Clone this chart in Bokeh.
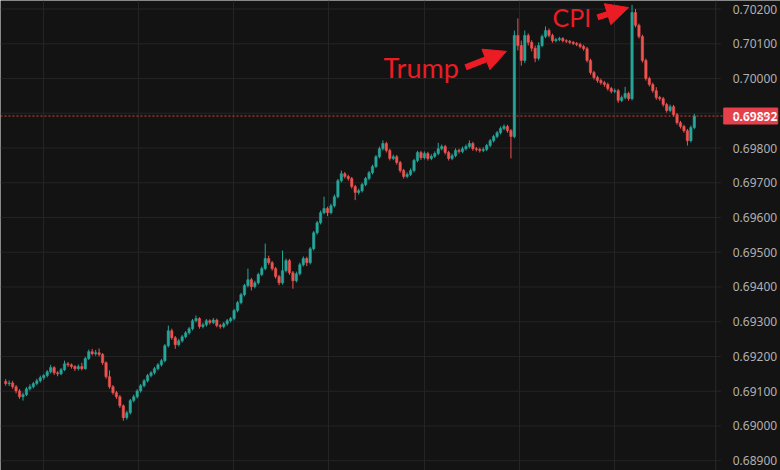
from bokeh.plotting import figure
from bokeh.models import (ColumnDataSource, Range1d, FixedTicker, Span, Label, Arrow, NormalHead)
from bokeh.embed import file_html
from bokeh.resources import INLINE
from bokeh.core.properties import value

# ---------------- data (intraday candles) ----------------
opens = [
    0.69128, 0.69122, 0.69124, 0.69113, 0.69101, 0.69084, 0.69090, 0.69107, 0.69113, 0.69122,
    0.69130, 0.69139, 0.69145, 0.69156, 0.69168, 0.69153, 0.69150, 0.69162, 0.69179, 0.69176,
    0.69171, 0.69165, 0.69171, 0.69165, 0.69194, 0.69214, 0.69208, 0.69211, 0.69206, 0.69182,
    0.69142, 0.69113, 0.69096, 0.69084, 0.69058, 0.69024, 0.69038, 0.69073, 0.69084, 0.69101,
    0.69116, 0.69130, 0.69145, 0.69153, 0.69165, 0.69176, 0.69188, 0.69231, 0.69274, 0.69254,
    0.69234, 0.69245, 0.69257, 0.69268, 0.69280, 0.69303, 0.69309, 0.69286, 0.69291, 0.69303,
    0.69298, 0.69305, 0.69289, 0.69286, 0.69294, 0.69303, 0.69309, 0.69332, 0.69355, 0.69378,
    0.69404, 0.69421, 0.69401, 0.69412, 0.69436, 0.69453, 0.69482, 0.69470, 0.69453, 0.69430,
    0.69412, 0.69447, 0.69476, 0.69441, 0.69418, 0.69438, 0.69464, 0.69482, 0.69470, 0.69510,
    0.69556, 0.69585, 0.69614, 0.69626, 0.69614, 0.69634, 0.69660, 0.69706, 0.69726, 0.69718,
    0.69712, 0.69689, 0.69672, 0.69677, 0.69695, 0.69712, 0.69729, 0.69747, 0.69775, 0.69798,
    0.69813, 0.69793, 0.69770, 0.69775, 0.69758, 0.69735, 0.69718, 0.69724, 0.69735, 0.69764,
    0.69787, 0.69772, 0.69784, 0.69770, 0.69776, 0.69784, 0.69798, 0.69804, 0.69787, 0.69770,
    0.69778, 0.69793, 0.69790, 0.69798, 0.69804, 0.69813, 0.69798, 0.69796, 0.69793, 0.69796,
    0.69807, 0.69821, 0.69833, 0.69844, 0.69856, 0.69862, 0.69850, 0.69833, 0.70124, 0.70095,
    0.70052, 0.70124, 0.70104, 0.70087, 0.70058, 0.70095, 0.70121, 0.70138, 0.70124, 0.70109,
    0.70112, 0.70115, 0.70109, 0.70107, 0.70104, 0.70101, 0.70098, 0.70092, 0.70086, 0.70052,
    0.70017, 0.70003, 0.69994, 0.69988, 0.69983, 0.69971, 0.69963, 0.69965, 0.69937, 0.69945,
    0.69957, 0.69942, 0.70190, 0.70153, 0.70121, 0.70052, 0.70000, 0.69983, 0.69965, 0.69945,
    0.69942, 0.69925, 0.69908, 0.69919, 0.69896, 0.69873, 0.69862, 0.69850, 0.69821, 0.69859,
]
closes = [
    0.69122, 0.69124, 0.69113, 0.69101, 0.69084, 0.69090, 0.69107, 0.69113, 0.69122, 0.69130,
    0.69139, 0.69145, 0.69156, 0.69168, 0.69153, 0.69150, 0.69162, 0.69179, 0.69176, 0.69171,
    0.69165, 0.69171, 0.69165, 0.69194, 0.69214, 0.69208, 0.69211, 0.69206, 0.69182, 0.69142,
    0.69113, 0.69096, 0.69084, 0.69058, 0.69024, 0.69038, 0.69073, 0.69084, 0.69101, 0.69116,
    0.69130, 0.69145, 0.69153, 0.69165, 0.69176, 0.69188, 0.69231, 0.69274, 0.69254, 0.69234,
    0.69245, 0.69257, 0.69268, 0.69280, 0.69303, 0.69309, 0.69286, 0.69291, 0.69303, 0.69298,
    0.69305, 0.69289, 0.69286, 0.69294, 0.69303, 0.69309, 0.69332, 0.69355, 0.69378, 0.69404,
    0.69421, 0.69401, 0.69412, 0.69436, 0.69453, 0.69482, 0.69470, 0.69453, 0.69430, 0.69412,
    0.69447, 0.69476, 0.69441, 0.69418, 0.69438, 0.69464, 0.69482, 0.69470, 0.69510, 0.69556,
    0.69585, 0.69614, 0.69626, 0.69614, 0.69634, 0.69660, 0.69706, 0.69726, 0.69718, 0.69712,
    0.69689, 0.69672, 0.69677, 0.69695, 0.69712, 0.69729, 0.69747, 0.69775, 0.69798, 0.69813,
    0.69793, 0.69770, 0.69775, 0.69758, 0.69735, 0.69718, 0.69724, 0.69735, 0.69764, 0.69787,
    0.69772, 0.69784, 0.69770, 0.69776, 0.69784, 0.69798, 0.69804, 0.69787, 0.69770, 0.69778,
    0.69793, 0.69790, 0.69798, 0.69804, 0.69813, 0.69798, 0.69796, 0.69793, 0.69796, 0.69807,
    0.69821, 0.69833, 0.69844, 0.69856, 0.69862, 0.69850, 0.69833, 0.70124, 0.70095, 0.70052,
    0.70124, 0.70104, 0.70087, 0.70058, 0.70095, 0.70121, 0.70138, 0.70124, 0.70109, 0.70112,
    0.70115, 0.70109, 0.70107, 0.70104, 0.70101, 0.70098, 0.70092, 0.70086, 0.70052, 0.70017,
    0.70003, 0.69994, 0.69988, 0.69983, 0.69971, 0.69963, 0.69965, 0.69937, 0.69945, 0.69957,
    0.69942, 0.70190, 0.70153, 0.70121, 0.70052, 0.70000, 0.69983, 0.69965, 0.69945, 0.69942,
    0.69925, 0.69908, 0.69919, 0.69896, 0.69873, 0.69862, 0.69850, 0.69821, 0.69859, 0.69892,
]
highs = [
    0.69135, 0.69131, 0.69130, 0.69118, 0.69106, 0.69096, 0.69112, 0.69120, 0.69127, 0.69136,
    0.69145, 0.69150, 0.69161, 0.69176, 0.69172, 0.69158, 0.69167, 0.69188, 0.69184, 0.69180,
    0.69175, 0.69177, 0.69182, 0.69199, 0.69220, 0.69222, 0.69219, 0.69223, 0.69210, 0.69186,
    0.69160, 0.69118, 0.69101, 0.69089, 0.69062, 0.69044, 0.69078, 0.69090, 0.69106, 0.69121,
    0.69135, 0.69150, 0.69158, 0.69170, 0.69181, 0.69193, 0.69236, 0.69289, 0.69280, 0.69259,
    0.69251, 0.69262, 0.69273, 0.69285, 0.69308, 0.69318, 0.69313, 0.69297, 0.69308, 0.69307,
    0.69311, 0.69309, 0.69294, 0.69299, 0.69308, 0.69314, 0.69337, 0.69360, 0.69383, 0.69409,
    0.69453, 0.69426, 0.69418, 0.69441, 0.69459, 0.69525, 0.69490, 0.69475, 0.69458, 0.69435,
    0.69505, 0.69482, 0.69481, 0.69446, 0.69444, 0.69470, 0.69488, 0.69487, 0.69515, 0.69561,
    0.69590, 0.69620, 0.69660, 0.69631, 0.69640, 0.69666, 0.69711, 0.69735, 0.69731, 0.69723,
    0.69717, 0.69694, 0.69683, 0.69700, 0.69717, 0.69734, 0.69752, 0.69780, 0.69804, 0.69822,
    0.69818, 0.69798, 0.69781, 0.69780, 0.69763, 0.69740, 0.69730, 0.69741, 0.69769, 0.69792,
    0.69792, 0.69790, 0.69789, 0.69782, 0.69790, 0.69815, 0.69810, 0.69809, 0.69792, 0.69784,
    0.69799, 0.69798, 0.69804, 0.69810, 0.69822, 0.69818, 0.69803, 0.69801, 0.69802, 0.69812,
    0.69826, 0.69838, 0.69849, 0.69862, 0.69868, 0.69867, 0.69855, 0.70138, 0.70173, 0.70109,
    0.70138, 0.70130, 0.70110, 0.70095, 0.70104, 0.70127, 0.70150, 0.70144, 0.70129, 0.70117,
    0.70120, 0.70119, 0.70113, 0.70111, 0.70108, 0.70105, 0.70103, 0.70097, 0.70091, 0.70057,
    0.70022, 0.70008, 0.70000, 0.69993, 0.69988, 0.69976, 0.69971, 0.69970, 0.69951, 0.69976,
    0.69962, 0.70212, 0.70200, 0.70158, 0.70126, 0.70057, 0.70005, 0.69988, 0.69975, 0.69950,
    0.69947, 0.69930, 0.69925, 0.69924, 0.69901, 0.69878, 0.69867, 0.69855, 0.69865, 0.69898,
]
lows = [
    0.69116, 0.69115, 0.69107, 0.69094, 0.69078, 0.69073, 0.69086, 0.69102, 0.69108, 0.69117,
    0.69125, 0.69133, 0.69140, 0.69151, 0.69147, 0.69143, 0.69146, 0.69158, 0.69170, 0.69165,
    0.69158, 0.69160, 0.69160, 0.69162, 0.69190, 0.69203, 0.69202, 0.69200, 0.69176, 0.69136,
    0.69107, 0.69090, 0.69078, 0.69052, 0.69015, 0.69018, 0.69033, 0.69068, 0.69079, 0.69096,
    0.69111, 0.69125, 0.69140, 0.69148, 0.69160, 0.69171, 0.69183, 0.69226, 0.69248, 0.69222,
    0.69229, 0.69240, 0.69252, 0.69263, 0.69275, 0.69298, 0.69280, 0.69281, 0.69286, 0.69292,
    0.69293, 0.69284, 0.69280, 0.69281, 0.69289, 0.69298, 0.69304, 0.69327, 0.69350, 0.69373,
    0.69399, 0.69390, 0.69396, 0.69407, 0.69431, 0.69448, 0.69464, 0.69447, 0.69424, 0.69405,
    0.69407, 0.69442, 0.69435, 0.69395, 0.69413, 0.69433, 0.69459, 0.69460, 0.69465, 0.69505,
    0.69551, 0.69580, 0.69609, 0.69604, 0.69609, 0.69629, 0.69655, 0.69701, 0.69712, 0.69706,
    0.69683, 0.69650, 0.69666, 0.69672, 0.69690, 0.69707, 0.69724, 0.69742, 0.69770, 0.69793,
    0.69787, 0.69764, 0.69765, 0.69752, 0.69729, 0.69712, 0.69713, 0.69719, 0.69730, 0.69759,
    0.69766, 0.69767, 0.69764, 0.69765, 0.69771, 0.69779, 0.69793, 0.69781, 0.69764, 0.69765,
    0.69773, 0.69784, 0.69785, 0.69793, 0.69799, 0.69792, 0.69790, 0.69787, 0.69788, 0.69791,
    0.69802, 0.69816, 0.69828, 0.69839, 0.69851, 0.69844, 0.69770, 0.69828, 0.70081, 0.70037,
    0.70045, 0.70095, 0.70078, 0.70047, 0.70052, 0.70090, 0.70116, 0.70118, 0.70103, 0.70104,
    0.70107, 0.70104, 0.70102, 0.70099, 0.70096, 0.70093, 0.70087, 0.70080, 0.70046, 0.70011,
    0.69997, 0.69988, 0.69982, 0.69976, 0.69965, 0.69957, 0.69958, 0.69930, 0.69932, 0.69940,
    0.69936, 0.69937, 0.70147, 0.70115, 0.70046, 0.69994, 0.69977, 0.69959, 0.69939, 0.69936,
    0.69919, 0.69902, 0.69903, 0.69890, 0.69867, 0.69856, 0.69844, 0.69807, 0.69816, 0.69854,
]
last_price = 0.69892
price_ticks = [0.68900, 0.69000, 0.69100, 0.69200, 0.69300, 0.69400, 0.69500,
               0.69600, 0.69700, 0.69800, 0.69900, 0.70000, 0.70100, 0.70200]
price_tick_labels = [f"{v:.5f}" for v in price_ticks]
time_grid = [10.9, 38.4, 65.9, 93.4, 120.9, 148.4, 175.9]
events = ["Trump", "CPI"]
event_text_pos = [(109.2, 0.70032), (158.0, 0.70176)]           # (bar, price) of text baseline-left
event_font_px = ["27px", "25px"]
event_arrows = [((132.9, 0.70032), (144.7, 0.70078)),            # (start, end) of arrows
                ((171.0, 0.70176), (180.0, 0.70204))]

# ---------------- layout / styling ----------------
X_START, X_END = -1.5, 223.9          # bar units across the full canvas
Y_START, Y_END = 0.688719, 0.702245
PRICE_SCALE_X = 205.2                  # where the price scale begins (bar units)
LABEL_X = 210.1
UP, DOWN = "#26a69a", "#ef5350"
BG = "#131313"
GRID = "#242424"
TEXT = "#b0b0b0"
ANNOT = "#ec1c24"
TAG = "#e5404b"

idx = list(range(len(closes)))
colors = [UP if c >= o else DOWN for o, c in zip(opens, closes)]
src = ColumnDataSource(dict(x=idx, open=opens, close=closes, high=highs, low=lows,
                            top=[max(o, c) for o, c in zip(opens, closes)],
                            bottom=[min(o, c) for o, c in zip(opens, closes)],
                            color=colors))

p = figure(width=780, height=470, output_backend="svg", toolbar_location=None,
           x_range=Range1d(X_START, X_END), y_range=Range1d(Y_START, Y_END),
           x_axis_location=None, y_axis_location=None,
           min_border_left=0, min_border_top=0, min_border_bottom=0, min_border_right=0)
p.background_fill_color = BG
p.border_fill_color = BG
p.outline_line_color = None
p.ygrid.grid_line_color = None
p.xgrid.ticker = FixedTicker(ticks=time_grid)
p.xgrid.grid_line_color = GRID

# horizontal price grid (stops at the price scale)
p.segment(x0=[X_START] * len(price_ticks), x1=[PRICE_SCALE_X + 1.5] * len(price_ticks),
          y0=price_ticks, y1=price_ticks, line_color=GRID, line_width=1)
p.add_layout(Span(location=PRICE_SCALE_X, dimension="height", line_color="#2a2a2a", line_width=1))

# price scale labels
p.text(x=[LABEL_X] * len(price_ticks), y=price_ticks, text=price_tick_labels,
       text_color=TEXT, text_font=value("Noto Sans"), text_font_size="12px",
       text_baseline="middle", text_align="left")

# wicks and bodies
p.segment(x0="x", x1="x", y0="low", y1="high", line_color="color", line_width=1, source=src)
p.vbar(x="x", width=0.7, top="top", bottom="bottom", fill_color="color", line_color="color",
       line_width=0.5, source=src)

# last price line and tag
p.add_layout(Span(location=last_price, dimension="width", line_color="#d8453f",
                  line_dash="2 2", line_width=1))
p.quad(left=[LABEL_X - 2.6], right=[X_END - 0.8], bottom=[last_price - 0.00023],
       top=[last_price + 0.00023], fill_color=TAG, line_color=TAG)
p.text(x=[LABEL_X], y=[last_price], text=[f"{last_price:.5f}"], text_color="white",
       text_font=value("Noto Sans"), text_font_size="12px", text_font_style="bold",
       text_baseline="middle", text_align="left")

# annotations
for name, (tx, ty), fs, ((x0, y0), (x1, y1)) in zip(events, event_text_pos, event_font_px, event_arrows):
    p.add_layout(Label(x=tx, y=ty, text=name, text_color=ANNOT, text_font="Lato",
                       text_font_size=fs, text_baseline="alphabetic"))
    p.add_layout(Arrow(x_start=x0, y_start=y0, x_end=x1, y_end=y1,
                       line_color=ANNOT, line_width=6,
                       end=NormalHead(size=22, fill_color=ANNOT, line_color=ANNOT)))

open("out.html", "w").write(file_html(p, INLINE))
